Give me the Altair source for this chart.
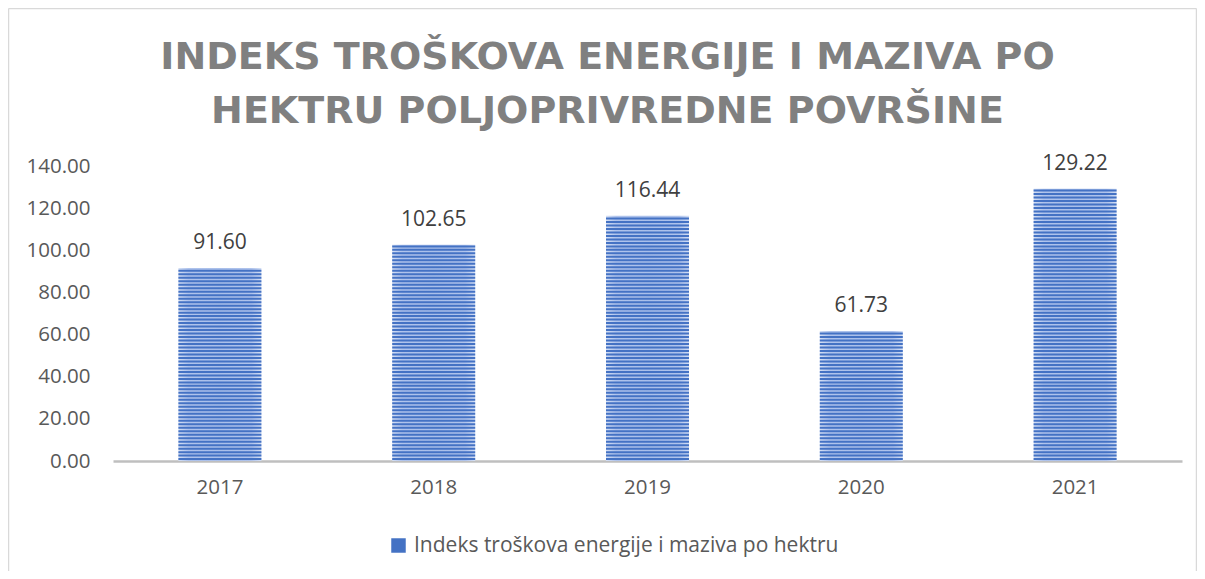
import altair as alt
import pandas as pd

years = ["2017", "2018", "2019", "2020", "2021"]
values = [91.60, 102.65, 116.44, 61.73, 129.22]
series_name = "Indeks troškova energije i maziva po hektru"
title_lines = ["INDEKS TROŠKOVA ENERGIJE I MAZIVA PO", "HEKTRU POLJOPRIVREDNE POVRŠINE"]
y_ticks = [0, 20, 40, 60, 80, 100, 120, 140]

df = pd.DataFrame({"year": years, "value": values, "series": [series_name] * len(years)})

FONT = "Open Sans"
W, H = 1069, 295

x_enc = alt.X("year:N", sort=years,
              scale=alt.Scale(paddingInner=0, paddingOuter=0),
              axis=alt.Axis(title=None, labelAngle=0, ticks=False, tickSize=0,
                            domainColor="#BFBFBF", domainWidth=2.5,
                            labelFontSize=20.5, labelColor="#595959", labelFont=FONT,
                            labelPadding=16))
y_scale = alt.Scale(domain=[0, 140], nice=False)
y_axis = alt.Axis(title=None, values=y_ticks, format=".2f", grid=False, ticks=False,
                  tickSize=0, domain=False, labelFontSize=20.5, labelColor="#595959",
                  labelFont=FONT, labelPadding=23)

base = alt.Chart(df)

bars = base.mark_bar(
    size=83,
    color=alt.Gradient(
        gradient="linear", x1=0, x2=1, y1=0, y2=0,
        stops=[alt.GradientStop(color="#D4DFF4", offset=0),
               alt.GradientStop(color="#AFC3EC", offset=0.12),
               alt.GradientStop(color="#A9BFEA", offset=0.5),
               alt.GradientStop(color="#AFC3EC", offset=0.88),
               alt.GradientStop(color="#D4DFF4", offset=1)]),
).encode(x=x_enc, y=alt.Y("value:Q", scale=y_scale, axis=y_axis))

stripes = base.transform_calculate(
    stripe="sequence(0.9, datum.value, 1.655)"
).transform_flatten(["stripe"]).mark_tick(
    size=83, thickness=2, orient="horizontal", opacity=1
).encode(
    x=alt.X("year:N", sort=years),
    y=alt.Y("stripe:Q", scale=y_scale),
    color=alt.Color("series:N", scale=alt.Scale(range=["#4472C4"]),
                    legend=alt.Legend(title=None, orient="none", legendX=275, legendY=369,
                                      symbolType="square", symbolSize=210,
                                      symbolStrokeWidth=0, symbolFillColor="#5F86D0",
                                      labelFontSize=21, labelColor="#595959",
                                      labelFont=FONT, labelOffset=5, labelLimit=800)),
)

labels = base.mark_text(baseline="middle", dy=-25, fontSize=21, color="#404040", font=FONT).encode(
    x=alt.X("year:N", sort=years),
    y=alt.Y("value:Q", scale=y_scale),
    text=alt.Text("value:Q", format=".2f"),
)

one = pd.DataFrame({"k": [0]})
border_col = "#D9D9D9"
left_rule = alt.Chart(one).mark_rule(color=border_col, strokeWidth=1.5).encode(
    x=alt.value(-104.5), y=alt.value(-157.5), y2=alt.value(410))
top_rule = alt.Chart(one).mark_rule(color=border_col, strokeWidth=1.5).encode(
    x=alt.value(-104.5), x2=alt.value(1083.5), y=alt.value(-157.5))
right_rule = alt.Chart(one).mark_rule(color=border_col, strokeWidth=1.5).encode(
    x=alt.value(1083.5), y=alt.value(-157.5), y2=alt.value(410))

chart = alt.layer(bars, stripes, labels, left_rule, top_rule, right_rule).properties(
    width=W, height=H,
    title=alt.TitleParams(text=title_lines, font="DejaVu Sans", fontSize=38, fontWeight="bold",
                          color="#808080", anchor="middle", frame="bounds", dx=5,
                          offset=-123, lineHeight=54),
    autosize=alt.AutoSizeParams(type="none"),
    padding={"left": 105, "top": 158, "right": 15, "bottom": 110},
    background="white",
).configure_view(stroke=None)

chart.save("out.html", embed_options={"renderer": "svg", "actions": False})
